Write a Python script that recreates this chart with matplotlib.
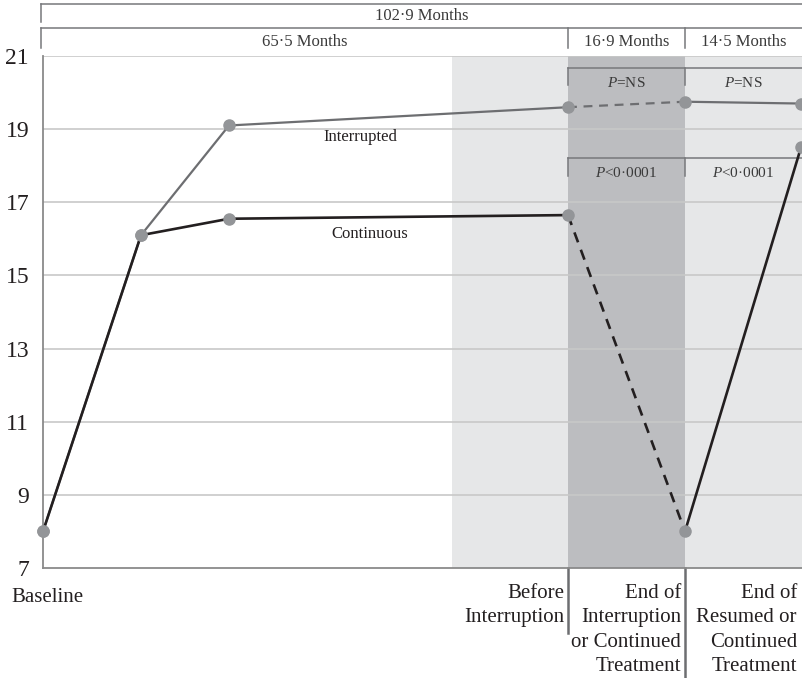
import numpy as np
import matplotlib
matplotlib.use("Agg")
import matplotlib.pyplot as plt
import matplotlib.transforms as mtransforms

plt.rcParams["font.family"] = ["Liberation Serif", "DejaVu Serif"]
plt.rcParams["mathtext.fontset"] = "custom"
plt.rcParams["mathtext.rm"] = "Liberation Serif"
plt.rcParams["mathtext.it"] = "Liberation Serif:italic"

# === Données ===
visit_x = [0, 98, 186, 525, 642, 758]          # positions on the timeline
interrupted = [8.0, 16.1, 19.1, 19.6, 19.75, 19.7]
continuous = [8.0, 16.1, 16.55, 16.65, 8.0, 18.5]
visit_labels = ["Baseline", "Before\nInterruption",
                "End of\nInterruption\nor Continued\nTreatment",
                "End of\nResumed or\nContinued\nTreatment"]
y_ticks = [7, 9, 11, 13, 15, 17, 19, 21]
period_labels = ["65·5 Months", "16·9 Months", "14·5 Months"]
total_label = "102·9 Months"
p_interrupted = ["$\\it{P}$=NS", "$\\it{P}$=NS"]
p_continuous = ["$\\it{P}$<0·0001", "$\\it{P}$<0·0001"]

W, H = 802, 678
fig = plt.figure(figsize=(W / 100, H / 100), dpi=100)
ax = fig.add_axes([43 / W, 1 - 568 / H, 1 - 43 / W, (568 - 56) / H])
x_end = 759
ax.set_xlim(0, x_end)
ax.set_ylim(7, 21)

# zones grises
ax.axvspan(409, x_end, color="#e6e7e8", zorder=0, lw=0)
ax.axvspan(visit_x[3], visit_x[4], color="#bcbdc0", zorder=0, lw=0)

for y in y_ticks[1:]:
    ax.axhline(y, color="#c8c8c8", lw=1.2, zorder=1)

grey = "#6d6e71"
black = "#231f20"
dot = "#939598"

# === Courbes ===
def draw(values, color, lw):
    ax.plot(visit_x[:4], values[:4], color=color, lw=lw, zorder=3, solid_capstyle="round")
    ax.plot(visit_x[3:5], values[3:5], color=color, lw=lw, ls=(0, (4, 3)), zorder=3)
    ax.plot(visit_x[4:], values[4:], color=color, lw=lw, zorder=3, clip_on=False)

draw(interrupted, grey, 1.6)
draw(continuous, black, 1.9)
ax.plot(visit_x, interrupted, "o", color=dot, ms=8, zorder=4, clip_on=False)
ax.plot(visit_x, continuous, "o", color=dot, ms=8, zorder=4, clip_on=False)

ax.text(317, 18.79, "Interrupted", ha="center", va="center", fontsize=12, color="#231f20")
ax.text(327, 16.13, "Continuous", ha="center", va="center", fontsize=12, color="#231f20")

# === Axes ===
for s in ["top", "right"]:
    ax.spines[s].set_visible(False)
for s in ["left", "bottom"]:
    ax.spines[s].set_color("#8a8a8a")
    ax.spines[s].set_linewidth(1.3)
ax.set_yticks(y_ticks)
ax.set_yticklabels([str(t) for t in y_ticks], fontsize=17, color="#231f20")
ax.tick_params(axis="y", length=0, pad=10)
ax.set_xticks([])

# crochets des valeurs P
bx = mtransforms.blended_transform_factory(ax.transData, fig.transFigure)
def fy(py):
    return 1 - py / H

def bracket(y_line, y_tick, xs, labels, y_text, size):
    ax.plot([xs[0], x_end + 5], [fy(y_line)] * 2, color="#77787b", lw=1.1, transform=bx, clip_on=False)
    for x in xs:
        ax.plot([x, x], [fy(y_line), fy(y_tick)], color="#77787b", lw=1.1, transform=bx, clip_on=False)
    ends = list(xs[1:]) + [x_end]
    for a, b, lab in zip(xs, ends, labels):
        ax.text((a + b) / 2, fy(y_text), lab, ha="center", va="center", fontsize=size,
                color="#3a3a3a", transform=bx)

bracket(68, 85, [visit_x[3], visit_x[4]], p_interrupted, 83, 11)
bracket(158, 176, [visit_x[3], visit_x[4]], p_continuous, 173, 11)

# crochets des durées en haut
bracket(4, 22, [-2], [total_label], 16, 12)
bracket(28, 48, [-2, visit_x[3], visit_x[4]], period_labels, 42, 12)

# étiquettes de l'axe x
ax.text(4, fy(588), visit_labels[0], ha="center", va="top", fontsize=15, color="#231f20",
        transform=bx)
for x, lab in zip(visit_x[3:], visit_labels[1:]):
    ax.text(x - 4, fy(584), lab, ha="right", va="top", fontsize=15, color="#231f20",
            transform=bx, linespacing=1.38)
ax.plot([visit_x[3]] * 2, [fy(568), fy(633)], color="#6d6e71", lw=1.8, transform=bx, clip_on=False)
ax.plot([visit_x[4]] * 2, [fy(568), fy(690)], color="#6d6e71", lw=1.8, transform=bx, clip_on=False)

fig.savefig("out.png", dpi=100)
